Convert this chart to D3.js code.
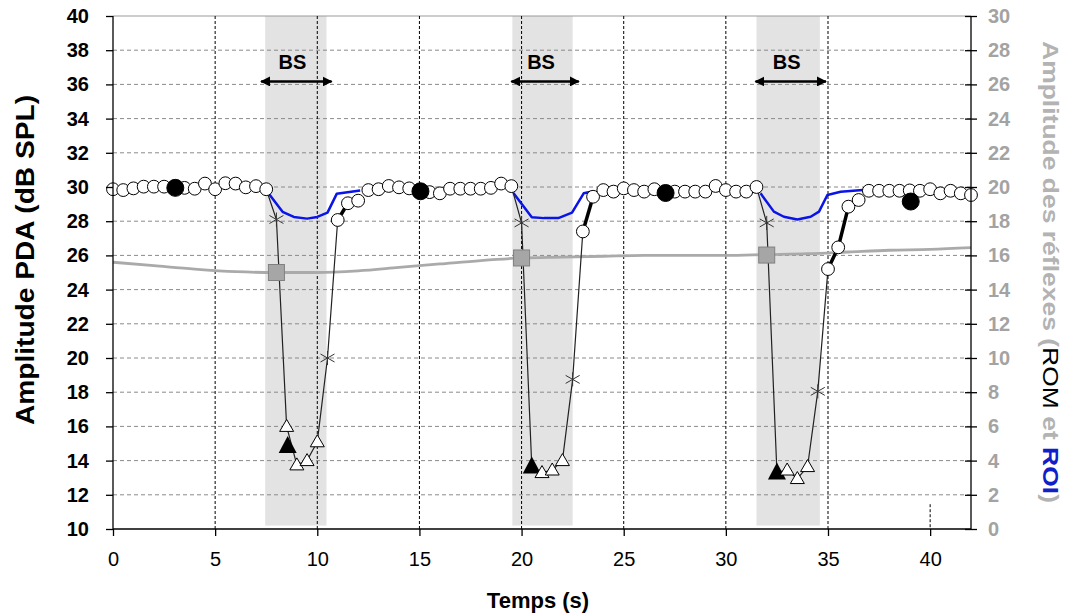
<!DOCTYPE html>
<html><head><meta charset="utf-8">
<script src="https://cdn.jsdelivr.net/npm/d3@7"></script>
<style>
body{margin:0;background:#fff;}
text{font-family:"Liberation Sans",Arial,sans-serif;}
</style></head>
<body><svg id="c" width="1071" height="616"></svg>
<script>
// ---- data ----
const leftTicks = [10,12,14,16,18,20,22,24,26,28,30,32,34,36,38,40];
const rightTicks = [0,2,4,6,8,10,12,14,16,18,20,22,24,26,28,30];
const timeTicks = [0,5,10,15,20,25,30,35,40];
const vGridFull = [5,10,15,20,25,30,35];
const vGridShort = [40];
const bsStart = [7.45,19.55,31.5];
const bsEnd = [10.45,22.5,34.6];
const arrowStart = [7.25,19.5,31.45];
const arrowEnd = [10.7,22.8,34.9];
const bsLabel = "BS";

const openCircles = [
 [0,29.87],[0.5,29.82],[1,29.92],[1.5,30.02],[2,30.02],[2.5,30.02],[3,29.95],[3.5,29.95],[4,29.9],[4.5,30.2],[5,29.87],[5.5,30.22],[6,30.2],[6.5,29.98],[7,30.05],[7.5,29.87],
 [11,28.07],[11.5,29.05],[12,29.2],[12.5,29.82],[13,29.87],[13.5,30.06],[14,29.98],[14.5,29.92],[15,29.8],[15.5,29.7],[16,29.63],[16.5,29.9],[17,29.9],[17.5,29.9],[18,29.9],[18.5,29.95],[19,30.2],[19.5,30.05],
 [23,27.4],[23.5,29.43],[24,29.82],[24.5,29.73],[25,29.92],[25.5,29.82],[26,29.73],[26.5,29.87],[27,29.7],[27.5,29.73],[28,29.73],[28.5,29.73],[29,29.73],[29.5,30.06],[30,29.82],[30.5,29.73],[31,29.73],[31.5,30.0],
 [35,25.2],[35.5,26.47],[36,28.85],[36.5,29.24],[37,29.78],[37.5,29.78],[38,29.78],[38.5,29.78],[39,29.8],[39.5,29.78],[40,29.87],[40.5,29.63],[41,29.78],[41.5,29.63],[42,29.53]
];
const filledCircles = [[3.05,29.95],[15.05,29.75],[27.05,29.65],[39.05,29.15]];

const dip1 = [[7.5,29.87],[8,28.1],[8.5,16.0],[9,13.75],[9.5,14.0],[10,15.1],[10.5,20.0],[11,28.07]];
const dip2 = [[19.5,30.05],[20,27.9],[20.5,13.65],[21,13.3],[21.5,13.45],[22,14.0],[22.5,18.75],[23,27.4]];
const dip3 = [[31.5,30.0],[32,27.9],[32.5,13.3],[33,13.45],[33.5,12.95],[34,13.65],[34.5,18.05],[35,25.2]];

const recovery1 = [[11,28.07],[11.5,29.05]];
const recovery2 = [[23,27.4],[23.5,29.43]];
const recovery3 = [[35,25.2],[35.5,26.47],[36,28.85]];

const stars = [[8,28.1],[10.5,20.0],[20,27.9],[22.5,18.75],[32,27.9],[34.5,18.05]];
const whiteTriangles = [[8.5,16.0],[9,13.75],[9.5,14.0],[10,15.1],[21,13.3],[21.5,13.45],[22,14.0],[33,13.45],[33.5,12.95],[34,13.65]];
const blackTriangles = [[8.55,14.85],[20.5,13.65],[32.5,13.3]];

// right axis (reflex amplitude)
const romCurve = [[0,15.6],[2,15.4],[4,15.2],[6,15.05],[8,15.0],[10,15.0],[12,15.1],[14,15.3],[16,15.5],[18,15.7],[20,15.85],[22,15.9],[24,15.95],[26,16.0],[28,16.0],[30,16.0],[32,16.05],[34,16.1],[36,16.2],[38,16.3],[40,16.35],[42,16.45]];
const romSquares = [[8,15.0],[20,15.85],[32,16.02]];
const roi1 = [[7.6,19.65],[8.3,18.55],[8.85,18.25],[9.5,18.15],[10,18.25],[10.5,18.5],[10.95,19.6],[12.1,19.8]];
const roi2 = [[19.6,19.65],[20.5,18.23],[21.1,18.18],[21.8,18.18],[22.47,18.5],[23.04,19.63],[23.4,19.72]];
const roi3 = [[31.7,19.63],[32.35,18.56],[32.84,18.26],[33.5,18.1],[34.15,18.26],[34.56,18.56],[34.97,19.53],[35.62,19.72],[36.7,19.82]];

// ---- drawing ----
const svg = d3.select("#c");
const x = d3.scaleLinear().domain([0,42]).range([113,971]);
const yL = d3.scaleLinear().domain([10,40]).range([529,16]);
const yR = d3.scaleLinear().domain([0,30]).range([529,16]);

// shading
svg.append("g").selectAll("rect").data(bsStart).join("rect")
  .attr("x",(d)=>x(d)).attr("y",yL(40))
  .attr("width",(d,i)=>x(bsEnd[i])-x(d)).attr("height",yL(10.2)-yL(40))
  .attr("fill","#e3e3e3");

// horizontal grid
svg.append("g").selectAll("line").data(leftTicks.filter(v=>v>10&&v<40)).join("line")
  .attr("x1",x(0)).attr("x2",x(42)).attr("y1",d=>yL(d)).attr("y2",d=>yL(d))
  .attr("stroke","#8a8a8a").attr("stroke-width",1).attr("stroke-dasharray","4,3");
// top border
svg.append("line").attr("x1",x(0)).attr("x2",x(42)).attr("y1",yL(40)).attr("y2",yL(40))
  .attr("stroke","#9a9a9a").attr("stroke-width",1);
// vertical grid
svg.append("g").selectAll("line").data(vGridFull).join("line")
  .attr("x1",d=>x(d)).attr("x2",d=>x(d)).attr("y1",yL(40)).attr("y2",yL(10))
  .attr("stroke","#000").attr("stroke-width",1).attr("stroke-dasharray","3,2");
svg.append("g").selectAll("line").data(vGridShort).join("line")
  .attr("x1",d=>x(d)).attr("x2",d=>x(d)).attr("y1",yL(11.45)).attr("y2",yL(10))
  .attr("stroke","#000").attr("stroke-width",1).attr("stroke-dasharray","3,2");

// BS arrows
const defs = svg.append("defs");
["s","e"].forEach(k=>{
  defs.append("marker").attr("id","ah"+k).attr("viewBox","0 0 10 10")
    .attr("refX",k==="e"?9:1).attr("refY",5).attr("markerWidth",4).attr("markerHeight",4)
    .attr("orient","auto")
    .append("path").attr("d",k==="e"?"M0,0L10,5L0,10z":"M10,0L0,5L10,10z").attr("fill","#000");
});
const arrowY = 36.17;
svg.append("g").selectAll("line").data(arrowStart).join("line")
  .attr("x1",d=>x(d)).attr("x2",(d,i)=>x(arrowEnd[i])).attr("y1",yL(arrowY)).attr("y2",yL(arrowY))
  .attr("stroke","#000").attr("stroke-width",2.5)
  .attr("marker-start","url(#ahs)").attr("marker-end","url(#ahe)");
svg.append("g").selectAll("text").data(arrowStart).join("text")
  .attr("x",(d,i)=>x((d+arrowEnd[i])/2)-4).attr("y",yL(arrowY)-12)
  .attr("text-anchor","middle").attr("font-size",20).attr("font-weight","bold").text(bsLabel);

// ROM gray curve
const lineR = d3.line().x(d=>x(d[0])).y(d=>yR(d[1])).curve(d3.curveMonotoneX);
svg.append("path").datum(romCurve).attr("d",lineR).attr("fill","none")
  .attr("stroke","#aaaaaa").attr("stroke-width",2.8);
// ROI blue
const lineRb = d3.line().x(d=>x(d[0])).y(d=>yR(d[1])).curve(d3.curveLinear);
svg.append("g").selectAll("path").data([roi1,roi2,roi3]).join("path")
  .attr("d",lineRb).attr("fill","none").attr("stroke","#0a14e6").attr("stroke-width",2.5)
  .attr("stroke-linejoin","round");

// thin black lines
const lineL = d3.line().x(d=>x(d[0])).y(d=>yL(d[1]));
svg.append("g").selectAll("path").data([dip1,dip2,dip3]).join("path")
  .attr("d",lineL).attr("fill","none").attr("stroke","#222").attr("stroke-width",1.2);
// thick recovery
svg.append("g").selectAll("path").data([recovery1,recovery2,recovery3]).join("path")
  .attr("d",lineL).attr("fill","none").attr("stroke","#000").attr("stroke-width",3.5);

// gray squares
svg.append("g").selectAll("rect").data(romSquares).join("rect")
  .attr("x",d=>x(d[0])-8).attr("y",d=>yR(d[1])-8).attr("width",16).attr("height",16)
  .attr("fill","#a6a6a6").attr("stroke","#808080").attr("stroke-width",1);

// open circles
svg.append("g").selectAll("circle").data(openCircles).join("circle")
  .attr("cx",d=>x(d[0])).attr("cy",d=>yL(d[1])).attr("r",6.4)
  .attr("fill","#fff").attr("stroke","#000").attr("stroke-width",1);
svg.append("g").selectAll("circle").data(filledCircles).join("circle")
  .attr("cx",d=>x(d[0])).attr("cy",d=>yL(d[1])).attr("r",8.5)
  .attr("fill","#000").attr("stroke","#000");

// triangles
svg.append("g").selectAll("path").data(blackTriangles).join("path")
  .attr("transform",d=>`translate(${x(d[0])},${yL(d[1])})`)
  .attr("d","M0,-10L9,7L-9,7Z").attr("fill","#000");
svg.append("g").selectAll("path").data(whiteTriangles).join("path")
  .attr("transform",d=>`translate(${x(d[0])},${yL(d[1])})`)
  .attr("d","M0,-7L7,5L-7,5Z").attr("fill","#fff").attr("stroke","#000").attr("stroke-width",1);

// stars
svg.append("g").selectAll("path").data(stars).join("path")
  .attr("transform",d=>`translate(${x(d[0])},${yL(d[1])})`)
  .attr("d","M0,-7L0,7M-7,-4L7,4M-7,4L7,-4").attr("fill","none")
  .attr("stroke","#333").attr("stroke-width",1);

// axes
const axL = svg.append("g").attr("transform",`translate(${x(0)},0)`)
  .call(d3.axisLeft(yL).tickValues(leftTicks).tickSize(7).tickPadding(17));
axL.selectAll("text").attr("font-size",20).attr("font-weight","bold").attr("fill","#000")
  .style("font-family","'Liberation Sans',Arial,sans-serif");
const axB = svg.append("g").attr("transform",`translate(0,${yL(10)})`)
  .call(d3.axisBottom(x).tickValues(timeTicks).tickSize(7).tickPadding(16));
axB.selectAll("text").attr("font-size",20).attr("fill","#000")
  .style("font-family","'Liberation Sans',Arial,sans-serif");
const axR = svg.append("g").attr("transform",`translate(${x(42)},0)`)
  .call(d3.axisRight(yR).tickValues(rightTicks).tickSize(6).tickPadding(11));
axR.selectAll(".tick line").attr("x1",-6);
axR.selectAll("text").attr("font-size",20).attr("font-weight","bold").attr("fill","#a3a3a3")
  .style("font-family","'Liberation Sans',Arial,sans-serif");
[axL,axB,axR].forEach(a=>{a.select(".domain").attr("stroke","#000").attr("stroke-width",1.3);
  a.selectAll(".tick line").attr("stroke","#000").attr("stroke-width",1.3);});
axL.select(".domain").attr("d",`M0,${yL(40)}V${yL(10)}`);
axR.select(".domain").attr("d",`M0,${yR(30)}V${yR(0)}`);
axB.select(".domain").attr("d",`M${x(0)},0H${x(42)}`);

// titles
svg.append("text").attr("transform","translate(34,260) rotate(-90)")
  .attr("text-anchor","middle").attr("font-size",25).attr("font-weight","bold")
  .attr("textLength",330).attr("lengthAdjust","spacingAndGlyphs")
  .text("Amplitude PDA (dB SPL)");
svg.append("text").attr("x",538).attr("y",608).attr("text-anchor","middle")
  .attr("font-size",22).attr("font-weight","bold").text("Temps (s)");
const rt = svg.append("text").attr("transform","translate(1043,272) rotate(90)")
  .attr("text-anchor","middle").attr("font-size",22).attr("font-weight","bold")
  .attr("textLength",462).attr("lengthAdjust","spacingAndGlyphs");
rt.append("tspan").attr("fill","#b3b3b3").text("Amplitude des réflexes (");
rt.append("tspan").attr("fill","#000").attr("font-weight","normal").text("ROM");
rt.append("tspan").attr("fill","#b3b3b3").text(" et ");
rt.append("tspan").attr("fill","#1020c8").text("ROI");
rt.append("tspan").attr("fill","#b3b3b3").text(")");
</script></body></html>
